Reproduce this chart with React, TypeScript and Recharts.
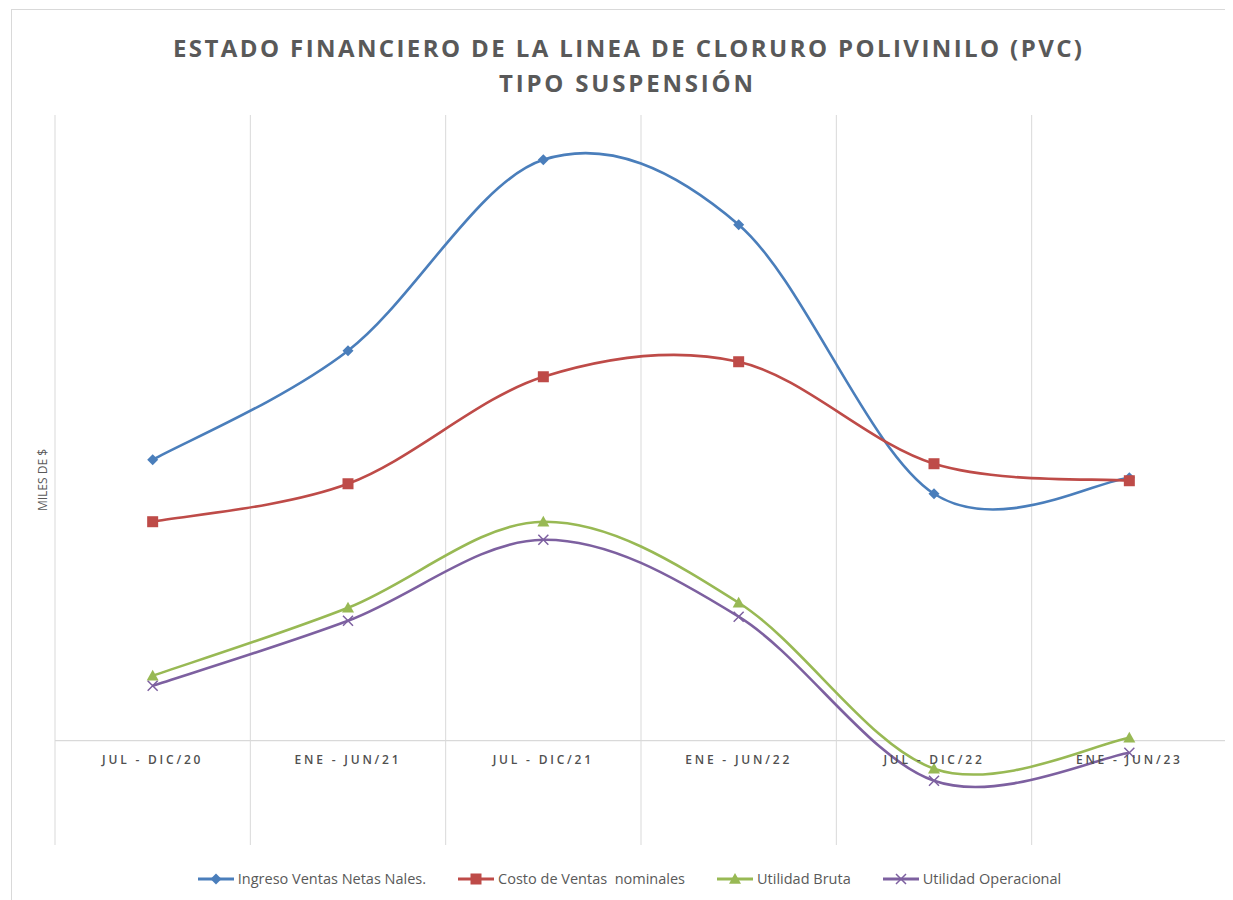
import React from 'react';
import { ComposedChart, Line, XAxis, YAxis, CartesianGrid, ReferenceLine, ReferenceDot } from 'recharts';

// ---------------------------------------------------------------------------
// Data (miles de $)
// ---------------------------------------------------------------------------

const PERIODS = ['JUL - DIC/20', 'ENE - JUN/21', 'JUL - DIC/21', 'ENE - JUN/22', 'JUL - DIC/22', 'ENE - JUN/23'];
const INGRESO = [2694, 3740, 5570, 4948, 2368, 2522];
const COSTO = [2100, 2464, 3490, 3634, 2656, 2493];
const UTIL_BRUTA = [623, 1275, 2100, 1323, -268, 29];
const UTIL_OPER = [527, 1151, 1927, 1189, -384, -115];

const SERIES = [
  { key: 'ingreso', name: 'Ingreso Ventas Netas Nales.', color: '#4a7ebb', marker: 'diamond', values: INGRESO },
  { key: 'costo', name: 'Costo de Ventas  nominales', color: '#be4b48', marker: 'square', values: COSTO },
  { key: 'bruta', name: 'Utilidad Bruta', color: '#98b954', marker: 'triangle', values: UTIL_BRUTA },
  { key: 'oper', name: 'Utilidad Operacional', color: '#7d60a0', marker: 'x', values: UTIL_OPER },
];

const data = PERIODS.map((p, i) => {
  const row: Record<string, string | number> = { period: p };
  SERIES.forEach(s => { row[s.key] = s.values[i]; });
  return row;
});

const GRAY = '#595959';
const GRID = '#d9d9d9';
const FONT = '"Open Sans", "DejaVu Sans", sans-serif';

// ---------------------------------------------------------------------------
// Excel-like smoothing (uniform Catmull-Rom as cubic beziers)
// ---------------------------------------------------------------------------

function excelSmooth(context: any) {
  let pts: number[][] = [];
  return {
    areaStart() {},
    areaEnd() {},
    lineStart() { pts = []; },
    point(x: number, y: number) { pts.push([+x, +y]); },
    lineEnd() {
      if (!pts.length) return;
      context.moveTo(pts[0][0], pts[0][1]);
      for (let i = 0; i < pts.length - 1; i++) {
        const p0 = pts[Math.max(i - 1, 0)];
        const p1 = pts[i];
        const p2 = pts[i + 1];
        const p3 = pts[Math.min(i + 2, pts.length - 1)];
        context.bezierCurveTo(
          p1[0] + (p2[0] - p0[0]) / 6, p1[1] + (p2[1] - p0[1]) / 6,
          p2[0] - (p3[0] - p1[0]) / 6, p2[1] - (p3[1] - p1[1]) / 6,
          p2[0], p2[1],
        );
      }
    },
  };
}

// ---------------------------------------------------------------------------
// Markers
// ---------------------------------------------------------------------------

function Marker({ type, cx, cy, color }: { type: string; cx: number; cy: number; color: string }) {
  if (type === 'diamond') {
    const r = 5.5;
    return <path d={`M${cx},${cy - r}L${cx + r},${cy}L${cx},${cy + r}L${cx - r},${cy}Z`} fill={color} />;
  }
  if (type === 'square') {
    const r = 5.5;
    return <rect x={cx - r} y={cy - r} width={2 * r} height={2 * r} fill={color} />;
  }
  if (type === 'triangle') {
    const r = 6;
    return <path d={`M${cx},${cy - r}L${cx + r},${cy + r * 0.8}L${cx - r},${cy + r * 0.8}Z`} fill={color} />;
  }
  const r = 5;
  return <path d={`M${cx - r},${cy - r}L${cx + r},${cy + r}M${cx + r},${cy - r}L${cx - r},${cy + r}`} stroke={color} strokeWidth={1.5} fill="none" />;
}

function makeDot(type: string, color: string) {
  return (props: any) => {
    const { cx, cy, index } = props;
    if (cx == null || cy == null) return <g key={`d-${index}`} />;
    return <g key={`d-${index}`}><Marker type={type} cx={cx} cy={cy} color={color} /></g>;
  };
}

// ---------------------------------------------------------------------------
// Legend
// ---------------------------------------------------------------------------

function LegendRow() {
  return (
    <div style={{ display: 'flex', justifyContent: 'center', gap: 32, fontFamily: FONT, fontSize: 14.5, color: GRAY, paddingLeft: 18 }}>
      {SERIES.map(s => (
        <div key={s.key} style={{ display: 'flex', alignItems: 'center', gap: 4 }}>
          <svg width={36} height={14}>
            <line x1={0} y1={7} x2={36} y2={7} stroke={s.color} strokeWidth={3} />
            <Marker type={s.marker} cx={18} cy={7} color={s.color} />
          </svg>
          <span style={{ whiteSpace: 'pre' }}>{s.name}</span>
        </div>
      ))}
    </div>
  );
}

function bandGrid({ offset }: any) {
  const n = PERIODS.length;
  return Array.from({ length: n + 1 }, (_, i) => offset.left + (i * offset.width) / n);
}

// ---------------------------------------------------------------------------
// App
// ---------------------------------------------------------------------------

export default function App() {
  return (
    <div style={{ position: 'relative', width: 1225, height: 892, overflow: 'hidden', background: '#fff' }}>
      <div style={{ position: 'absolute', left: 3, top: 1, width: 1400, height: 1000, border: `1px solid ${GRID}` }} />
      <svg style={{ position: 'absolute', left: 0, top: 0 }} width={1225} height={100}>
        <text x={619.5} y={49} textAnchor="middle" fontFamily={FONT} fontWeight={700} fontSize={24} fill={GRAY}
          textLength={909} lengthAdjust="spacing">ESTADO FINANCIERO DE LA LINEA DE CLORURO POLIVINILO (PVC)</text>
        <text x={618} y={84} textAnchor="middle" fontFamily={FONT} fontWeight={700} fontSize={24} fill={GRAY}
          textLength={254} lengthAdjust="spacing">TIPO SUSPENSIÓN</text>
      </svg>
      <svg style={{ position: 'absolute', left: 0, top: 0 }} width={60} height={892}>
        <text x={0} y={0} transform="translate(39,472) rotate(-90)" textAnchor="middle" fontFamily={FONT} fontSize={12} fill={GRAY}>MILES DE $</text>
      </svg>
      <div style={{ position: 'absolute', left: 0, top: 0 }}>
        <ComposedChart width={1225} height={892} data={data} margin={{ top: 107, right: 6, bottom: 55, left: 47 }}>
          <CartesianGrid horizontal={false} stroke={GRID} verticalCoordinatesGenerator={bandGrid} />
          <XAxis dataKey="period" scale="band" hide />
          <YAxis hide domain={[-1000, 6000]} allowDataOverflow />
          <ReferenceLine y={0} stroke={GRID} strokeWidth={1.3} />
          {PERIODS.map(p => (
            <ReferenceDot key={p} x={p} y={0} r={0} stroke="none" fill="none"
              label={{ value: p, position: 'bottom', offset: 15, fill: '#505050', fontSize: 12, fontFamily: FONT, fontWeight: 600, letterSpacing: 2.8 }} />
          ))}
          {SERIES.map(s => (
            <Line key={s.key} dataKey={s.key} name={s.name} type={excelSmooth as any} stroke={s.color} strokeWidth={2.6}
              dot={makeDot(s.marker, s.color)} activeDot={false} isAnimationActive={false} />
          ))}
        </ComposedChart>
      </div>
      <div style={{ position: 'absolute', left: 0, top: 861, width: 1225 }}>
        <LegendRow />
      </div>
    </div>
  );
}
